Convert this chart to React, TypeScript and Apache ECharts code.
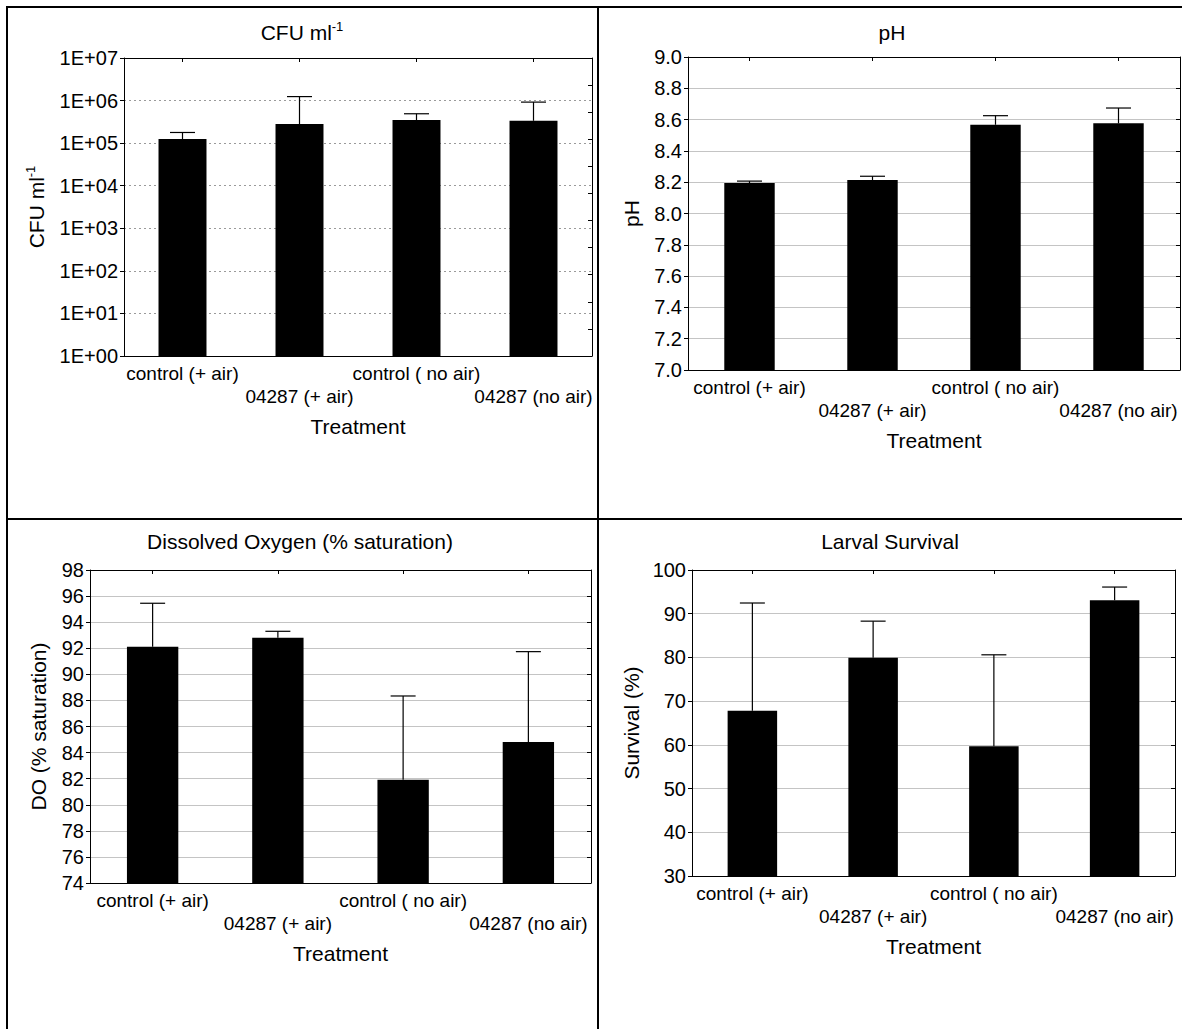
import React, { useEffect, useRef } from "react";
import * as echarts from "echarts";

// Treatment groups shared by all four panels
const categories = ["control (+ air)", "04287 (+ air)", "control ( no air)", "04287 (no air)"];

// Bacterial counts (CFU ml-1): mean and upper error limit
const cfuMean = [1.25e5, 2.8e5, 3.5e5, 3.35e5];
const cfuUpper = [1.78e5, 1.24e6, 4.9e5, 9.2e5];
const cfuTickLabels = ["1E+00", "1E+01", "1E+02", "1E+03", "1E+04", "1E+05", "1E+06", "1E+07"];

// pH
const phMean = [8.195, 8.214, 8.567, 8.576];
const phUpper = [8.207, 8.238, 8.625, 8.674];

// Dissolved oxygen (% saturation)
const doMean = [92.12, 92.81, 81.91, 84.82];
const doUpper = [95.45, 93.3, 88.34, 91.74];

// Larval survival (%)
const survivalMean = [67.8, 79.9, 59.7, 93.1];
const survivalUpper = [92.45, 88.3, 80.6, 96.1];

const FONT = "'Liberation Sans', Arial, Helvetica, sans-serif";
const BLACK = "#000";

type Panel = {
  grid: { left: number; top: number; width: number; height: number };
  title: string;
  titleX: number;
  titleY: number;
  yName: string;
  yNameGap: number;
  yType: "value" | "log";
  min: number;
  max: number;
  interval?: number;
  labelFmt: (v: number) => string;
  dottedGrid: boolean;
  mean: number[];
  upper: number[];
  rightAxis?: { min: number; max: number; interval: number };
};

const supRich = {
  b: { fontSize: 21, fontFamily: FONT, color: BLACK, lineHeight: 24 },
  s: { fontSize: 13, fontFamily: FONT, color: BLACK, lineHeight: 13, verticalAlign: "top" as const },
};

const panels: Panel[] = [
  {
    grid: { left: 124, top: 58, width: 468, height: 298 },
    title: "{b|CFU ml}{s|-1}",
    titleX: 302,
    titleY: 32,
    yName: "{b|CFU ml}{s|-1}",
    yNameGap: 76,
    yType: "log",
    min: 1,
    max: 1e7,
    labelFmt: (v) => cfuTickLabels[Math.round(Math.log10(v))] ?? "",
    dottedGrid: true,
    mean: cfuMean,
    upper: cfuUpper,
    rightAxis: { min: 0, max: 11, interval: 1 },
  },
  {
    grid: { left: 688, top: 57, width: 492, height: 313 },
    title: "{b|pH}",
    titleX: 892,
    titleY: 32,
    yName: "{b|pH}",
    yNameGap: 45,
    yType: "value",
    min: 7,
    max: 9,
    interval: 0.2,
    labelFmt: (v) => v.toFixed(1),
    dottedGrid: false,
    mean: phMean,
    upper: phUpper,
  },
  {
    grid: { left: 90, top: 570, width: 501, height: 313 },
    title: "{b|Dissolved Oxygen (% saturation)}",
    titleX: 300,
    titleY: 541,
    yName: "{b|DO (% saturation)}",
    yNameGap: 40,
    yType: "value",
    min: 74,
    max: 98,
    interval: 2,
    labelFmt: (v) => String(Math.round(v)),
    dottedGrid: false,
    mean: doMean,
    upper: doUpper,
  },
  {
    grid: { left: 692, top: 570, width: 483, height: 306 },
    title: "{b|Larval Survival}",
    titleX: 890,
    titleY: 541,
    yName: "{b|Survival (%)}",
    yNameGap: 49,
    yType: "value",
    min: 30,
    max: 100,
    interval: 10,
    labelFmt: (v) => String(Math.round(v)),
    dottedGrid: false,
    mean: survivalMean,
    upper: survivalUpper,
  },
];

function buildOption() {
  const grid: any[] = [];
  const xAxis: any[] = [];
  const yAxis: any[] = [];
  const series: any[] = [];
  const graphic: any[] = [];

  const axisLine = { show: true, lineStyle: { color: BLACK, width: 1 } };

  panels.forEach((p, i) => {
    grid.push({ ...p.grid, containLabel: false });

    // bottom category axis with staggered labels
    xAxis.push({
      type: "category",
      gridIndex: i,
      data: categories,
      position: "bottom",
      axisLine,
      axisTick: { show: true, inside: true, length: 4, alignWithLabel: true, lineStyle: { color: BLACK } },
      axisLabel: {
        interval: 0,
        margin: 6,
        color: BLACK,
        fontFamily: FONT,
        fontSize: 19,
        lineHeight: 23,
        formatter: (v: string, idx: number) => (idx % 2 === 1 ? "\n" + v : v),
      },
      name: "Treatment",
      nameLocation: "middle",
      nameGap: 60,
      nameTextStyle: { color: BLACK, fontFamily: FONT, fontSize: 21 },
    });
    // top frame axis
    xAxis.push({
      type: "category",
      gridIndex: i,
      data: categories,
      position: "top",
      axisLine,
      axisTick: { show: true, inside: true, length: 4, alignWithLabel: true, lineStyle: { color: BLACK } },
      axisLabel: { show: false },
    });

    // left value axis
    const left: any = {
      type: p.yType,
      gridIndex: i,
      position: "left",
      min: p.min,
      max: p.max,
      axisLine,
      axisTick: { show: true, inside: false, length: 4, lineStyle: { color: BLACK } },
      axisLabel: {
        margin: 6,
        color: BLACK,
        fontFamily: FONT,
        fontSize: 20,
        formatter: p.labelFmt,
      },
      splitLine: {
        show: true,
        lineStyle: p.dottedGrid
          ? { color: "#9a9a9a", type: [2, 3], width: 1 }
          : { color: "#c4c4c4", type: "solid", width: 1 },
      },
      name: p.yName,
      nameLocation: "middle",
      nameRotate: 90,
      nameGap: p.yNameGap,
      nameTextStyle: { rich: supRich },
    };
    if (p.yType === "log") left.logBase = 10;
    if (p.interval != null) left.interval = p.interval;
    yAxis.push(left);

    // right frame axis
    const r = p.rightAxis ?? { min: p.min, max: p.max, interval: p.interval };
    yAxis.push({
      type: "value",
      gridIndex: i,
      position: "right",
      min: r.min,
      max: r.max,
      interval: r.interval,
      axisLine,
      axisTick: { show: true, inside: true, length: 4, lineStyle: { color: BLACK } },
      axisLabel: { show: false },
      splitLine: { show: false },
    });

    series.push({
      type: "bar",
      xAxisIndex: 2 * i,
      yAxisIndex: 2 * i,
      data: p.mean,
      barWidth: "41%",
      itemStyle: { color: BLACK },
      z: 2,
    });

    series.push({
      type: "custom",
      xAxisIndex: 2 * i,
      yAxisIndex: 2 * i,
      data: categories.map((_, k) => [k, p.upper[k], p.mean[k]]),
      encode: { x: 0, y: [1, 2] },
      z: 3,
      renderItem: (_params: any, api: any) => {
        const top = api.coord([api.value(0), api.value(1)]);
        const base = api.coord([api.value(0), api.value(2)]);
        const half = 12.5;
        const st = { stroke: BLACK, lineWidth: 1.2 };
        return {
          type: "group",
          children: [
            { type: "line", shape: { x1: top[0], y1: top[1], x2: base[0], y2: base[1] }, style: st },
            { type: "line", shape: { x1: top[0] - half, y1: top[1], x2: top[0] + half, y2: top[1] }, style: st },
          ],
        };
      },
    });

    graphic.push({
      type: "text",
      x: p.titleX,
      y: p.titleY,
      style: {
        text: p.title,
        rich: supRich,
        align: "center",
        verticalAlign: "middle",
        fill: BLACK,
      },
    });
  });

  // panel frame lines
  const frame = (x1: number, y1: number, x2: number, y2: number) => ({
    type: "line",
    shape: { x1, y1, x2, y2 },
    style: { stroke: BLACK, lineWidth: 2 },
    z: 10,
  });
  graphic.push(frame(6, 7, 1182, 7));
  graphic.push(frame(7, 6, 7, 1029));
  graphic.push(frame(598, 6, 598, 1029));
  graphic.push(frame(6, 519, 1182, 519));

  return {
    animation: false,
    backgroundColor: "#fff",
    textStyle: { fontFamily: FONT },
    grid,
    xAxis,
    yAxis,
    series,
    graphic,
  };
}

export default function App() {
  const ref = useRef<HTMLDivElement>(null);

  useEffect(() => {
    document.body.style.margin = "0";
    if (!ref.current) return;
    const chart = echarts.init(ref.current, undefined, { renderer: "svg" });
    chart.setOption(buildOption() as any);
    return () => chart.dispose();
  }, []);

  return <div ref={ref} style={{ width: 1182, height: 1029, background: "#fff" }} />;
}
